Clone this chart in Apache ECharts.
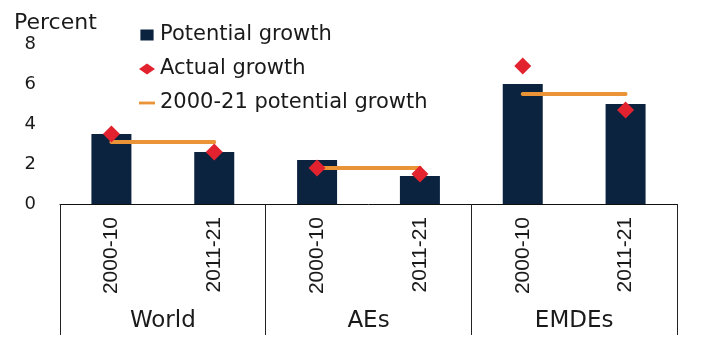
<!DOCTYPE html>
<html>
<head>
<meta charset="utf-8">
<script src="https://cdn.jsdelivr.net/npm/echarts@6/dist/echarts.min.js"></script>
<style>html,body{margin:0;padding:0;background:#fff;}#c{width:704px;height:363px;}</style>
</head>
<body>
<div id="c"></div>
<script>
var periods = ['2000-10', '2011-21', '2000-10', '2011-21', '2000-10', '2011-21'];
var groups = ['World', 'AEs', 'EMDEs'];
var potentialGrowth = [3.5, 2.6, 2.2, 1.4, 6.0, 5.0];
var actualGrowth = [3.5, 2.6, 1.8, 1.5, 6.9, 4.7];
var avgPotential = [3.1, 1.8, 5.5];
var yTicks = [0, 2, 4, 6, 8];

var chart = echarts.init(document.getElementById('c'));
var textColor = '#1a1a1a';
var lineSeries = groups.map(function (g, gi) {
  var d = periods.map(function (p, i) {
    return Math.floor(i / 2) === gi ? avgPotential[gi] : '-';
  });
  return {
    name: '2000-21 potential growth',
    type: 'line',
    data: d,
    symbol: 'none',
    connectNulls: false,
    z: 3,
    lineStyle: { color: '#ea9437', width: 4, cap: 'round' },
    itemStyle: { color: '#ea9437' }
  };
});

chart.setOption({
  animation: false,
  title: {
    text: 'Percent',
    left: 9,
    top: 7,
    textStyle: { fontFamily: 'DejaVu Sans', fontSize: 22, fontWeight: 'normal', color: textColor, lineHeight: 22 }
  },
  legend: {
    orient: 'vertical',
    left: 134,
    top: 18,
    itemWidth: 16,
    itemHeight: 11,
    itemGap: 10,
    textStyle: { fontFamily: 'DejaVu Sans', fontSize: 21, color: textColor, lineHeight: 24 },
    data: [
      { name: 'Potential growth', icon: 'path://M0,0h12v10h-12z', itemStyle: { color: '#0c2340' } },
      { name: 'Actual growth', icon: 'diamond', itemStyle: { color: '#e2232f', opacity: 1 } },
      { name: '2000-21 potential growth', icon: 'path://M0,0h17v3h-17z', itemStyle: { color: '#ea9437' } }
    ]
  },
  grid: { left: 60, right: 27, top: 44, bottom: 159 },
  xAxis: [
    {
      type: 'category',
      data: periods,
      position: 'bottom',
      axisLine: { show: true, lineStyle: { color: '#111', width: 1 } },
      axisTick: { show: false },
      axisLabel: {
        rotate: 90,
        margin: 13,
        interval: 0,
        fontFamily: 'Liberation Sans',
        fontSize: 21,
        color: textColor
      }
    },
    {
      type: 'category',
      data: groups,
      position: 'bottom',
      offset: 0,
      axisLine: { show: false },
      axisTick: { show: true, interval: 0, length: 131, lineStyle: { color: '#222', width: 1 } },
      axisLabel: {
        margin: 106,
        interval: 0,
        fontFamily: 'DejaVu Sans',
        fontSize: 23,
        lineHeight: 23,
        color: textColor
      }
    }
  ],
  yAxis: {
    type: 'value',
    min: yTicks[0],
    max: yTicks[yTicks.length - 1],
    interval: 2,
    axisLine: { show: false },
    axisTick: { show: false },
    splitLine: { show: false },
    axisLabel: { margin: 24, fontFamily: 'DejaVu Sans', fontSize: 18, color: textColor }
  },
  series: [
    {
      name: 'Potential growth',
      type: 'bar',
      data: potentialGrowth,
      barWidth: 40,
      z: 2,
      itemStyle: { color: '#0c2340' }
    },
    {
      name: 'Actual growth',
      type: 'scatter',
      data: actualGrowth,
      symbol: 'diamond',
      symbolSize: 17,
      z: 4,
      itemStyle: { color: '#e2232f', opacity: 1 }
    }
  ].concat(lineSeries)
});
</script>
</body>
</html>
